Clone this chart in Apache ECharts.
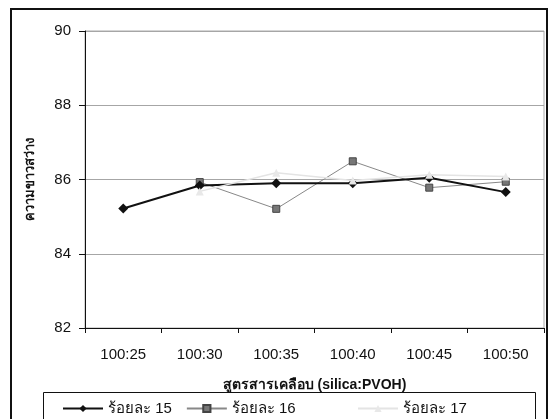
<!DOCTYPE html>
<html>
<head>
<meta charset="utf-8">
<script src="https://cdn.jsdelivr.net/npm/echarts@6/dist/echarts.min.js"></script>
<style>
  html, body { margin: 0; padding: 0; background: #fff; }
  #chart { width: 551px; height: 419px; }
</style>
</head>
<body>
<div id="chart"></div>
<script>
// 类目：涂层配方 (silica:PVOH)
const categories = ['100:25', '100:30', '100:35', '100:40', '100:45', '100:50'];

// 各系列数值
const series15 = [85.22, 85.84, 85.9, 85.9, 86.05, 85.66];
const series16 = [null, 85.93, 85.21, 86.49, 85.78, 85.94];
const series17 = [null, 85.68, 86.18, 85.97, 86.13, 86.08];

// 图例名称
const seriesNames = ['ร้อยละ 15', 'ร้อยละ 16', 'ร้อยละ 17'];

// 纵轴刻度
const yMin = 82;
const yMax = 90;
const yStep = 2;

const FONT = '"Liberation Sans", Arial, sans-serif';

const chart = echarts.init(document.getElementById('chart'), null, { renderer: 'canvas' });

const option = {
  animation: false,
  backgroundColor: '#fff',
  grid: {
    left: 85,
    right: 7,
    top: 31,
    bottom: 91,
    show: true,
    borderColor: '#aaa',
    borderWidth: 1
  },
  xAxis: {
    type: 'category',
    data: categories,
    name: 'สูตรสารเคลือบ (silica:PVOH)',
    nameLocation: 'middle',
    nameGap: 50,
    nameTextStyle: { fontFamily: FONT, fontSize: 14, fontWeight: 'bold', color: '#111' },
    axisLine: { lineStyle: { color: '#111', width: 1 } },
    axisTick: { show: true, length: 5, lineStyle: { color: '#111' } },
    axisLabel: { fontFamily: FONT, fontSize: 15, color: '#111', margin: 19 }
  },
  yAxis: {
    type: 'value',
    min: yMin,
    max: yMax,
    interval: yStep,
    name: 'ความขาวสว่าง',
    nameLocation: 'middle',
    nameGap: 48,
    nameTextStyle: { fontFamily: FONT, fontSize: 13, fontWeight: 'bold', color: '#111' },
    axisLine: { show: true, lineStyle: { color: '#111', width: 1 } },
    axisTick: { show: true, length: 6, lineStyle: { color: '#111' } },
    axisLabel: { fontFamily: FONT, fontSize: 15, color: '#111', margin: 14 },
    splitLine: { show: true, lineStyle: { color: '#a6a6a6', width: 1 } }
  },
  legend: [
    {
      data: [seriesNames[0], seriesNames[1]],
      left: 57,
      top: 396,
      itemWidth: 40,
      itemHeight: 9,
      itemGap: 14,
      textStyle: { fontFamily: FONT, fontSize: 15, color: '#111' }
    },
    {
      data: [seriesNames[2]],
      left: 352,
      top: 396,
      itemWidth: 40,
      itemHeight: 9,
      textStyle: { fontFamily: FONT, fontSize: 15, color: '#111' }
    }
  ],
  graphic: [
    // 外边框
    {
      type: 'rect',
      shape: { x: 11, y: 9, width: 536, height: 420 },
      style: { fill: null, stroke: '#111', lineWidth: 2 },
      silent: true
    },
    // 图例边框
    {
      type: 'rect',
      shape: { x: 43.5, y: 392.5, width: 492, height: 40 },
      style: { fill: null, stroke: '#111', lineWidth: 1 },
      silent: true
    }
  ],
  series: [
    {
      name: seriesNames[0],
      type: 'line',
      data: series15,
      symbol: 'diamond',
      symbolSize: 10,
      z: 4,
      lineStyle: { color: '#111', width: 2 },
      itemStyle: { color: '#111' }
    },
    {
      name: seriesNames[1],
      type: 'line',
      data: series16,
      symbol: 'rect',
      symbolSize: 7,
      z: 3,
      lineStyle: { color: '#888', width: 1 },
      itemStyle: { color: '#777', borderColor: '#444', borderWidth: 1 }
    },
    {
      name: seriesNames[2],
      type: 'line',
      data: series17,
      symbol: 'triangle',
      symbolSize: 8,
      z: 5,
      lineStyle: { color: '#e4e4e4', width: 1.5 },
      itemStyle: { color: '#e8e8e8' }
    }
  ]
};

chart.setOption(option);
</script>
</body>
</html>
